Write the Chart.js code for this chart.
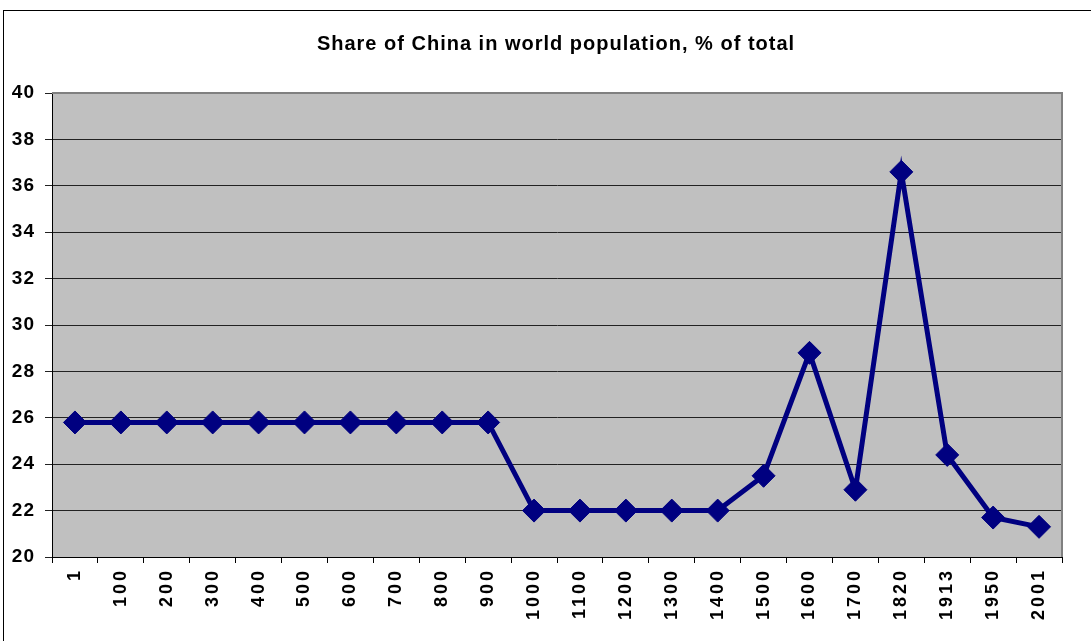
<!DOCTYPE html>
<html lang="en">
<head>
  <meta charset="UTF-8">
  <title>Share of China in world population</title>
  <style>
    html, body { margin: 0; padding: 0; background: #fff; }
    .chartBox { width: 1091px; height: 641px; }
  </style>
</head>
<body>
  <div class="chartBox">
    <canvas id="myChart" width="1091" height="641"></canvas>
  </div>

<script src="https://cdn.jsdelivr.net/npm/chart.js"></script>
<script>
  // data
  const years = ['1', '100', '200', '300', '400', '500', '600', '700', '800', '900',
                 '1000', '1100', '1200', '1300', '1400', '1500', '1600', '1700', '1820', '1913', '1950', '2001'];
  const share = [25.8, 25.8, 25.8, 25.8, 25.8, 25.8, 25.8, 25.8, 25.8, 25.8,
                 22.0, 22.0, 22.0, 22.0, 22.0, 23.5, 28.8, 22.9, 36.6, 24.4, 21.7, 21.3];
  const yMin = 20;
  const yMax = 40;
  const yStep = 2;
  const titleText = 'Share of China in world population, % of total';

  const FONT = 'Arial, "Liberation Sans", sans-serif';

  // grey plot area, outer frame, grey top/right edge, title like excel
  const excelLook = {
    id: 'excelLook',
    beforeDraw(chart) {
      const { ctx, chartArea: a } = chart;
      ctx.save();
      ctx.fillStyle = '#c0c0c0';
      ctx.fillRect(a.left, a.top, a.right - a.left, a.bottom - a.top);
      ctx.strokeStyle = '#000';
      ctx.lineWidth = 1;
      ctx.strokeRect(3.5, 10.5, 2000, 2000);
      ctx.restore();
    },
    beforeDatasetsDraw(chart) {
      const { ctx, chartArea: a } = chart;
      ctx.save();
      ctx.strokeStyle = '#808080';
      ctx.lineWidth = 2;
      ctx.beginPath();
      ctx.moveTo(a.left, a.top);
      ctx.lineTo(a.right, a.top);
      ctx.lineTo(a.right, a.bottom);
      ctx.stroke();
      ctx.restore();
    },
    afterDraw(chart) {
      const ctx = chart.ctx;
      ctx.save();
      ctx.font = 'bold 20px ' + FONT;
      ctx.letterSpacing = '1px';
      ctx.fillStyle = '#000';
      ctx.textAlign = 'center';
      ctx.textBaseline = 'alphabetic';
      ctx.fillText(titleText, 556, 50);
      ctx.restore();
    },
    afterLayout(chart) {
      // wider letter spacing on the tick labels, like the old excel export
      [['x', '3px'], ['y', '1px']].forEach(([id, sp]) => {
        const s = chart.scales[id];
        if (!s || s._spaced) return;
        const orig = s.drawLabels;
        s.drawLabels = function(area) {
          const ctx = this.ctx;
          ctx.save();
          ctx.letterSpacing = sp;
          orig.call(this, area);
          ctx.restore();
        };
        s._spaced = true;
      });
    }
  };

  const ctx = document.getElementById('myChart');

  new Chart(ctx, {
    type: 'line',
    data: {
      labels: years,
      datasets: [{
        label: 'China',
        data: share,
        borderColor: '#000080',
        backgroundColor: '#000080',
        borderWidth: 5,
        pointStyle: 'rectRot',
        pointRadius: 11.5,
        pointBorderWidth: 1,
        pointBackgroundColor: '#000080',
        pointBorderColor: '#000080',
        tension: 0
      }]
    },
    options: {
      responsive: false,
      animation: false,
      layout: { padding: { left: 0, right: 29, top: 93, bottom: 0 } },
      plugins: {
        legend: { display: false },
        tooltip: { enabled: false },
        title: { display: false }
      },
      scales: {
        x: {
          offset: true,
          grid: {
            offset: true,
            drawOnChartArea: false,
            drawTicks: true,
            tickLength: 6,
            color: '#000'
          },
          border: { color: '#000', width: 1 },
          ticks: {
            color: '#000',
            font: { family: FONT, size: 18, weight: 'bold' },
            minRotation: 90,
            maxRotation: 90,
            autoSkip: false,
            padding: 5
          },
          afterFit(scale) { scale.height = 84; }
        },
        y: {
          min: yMin,
          max: yMax,
          grid: {
            color: '#222',
            lineWidth: 1,
            tickLength: 7
          },
          border: { color: '#000', width: 1 },
          ticks: {
            stepSize: yStep,
            color: '#000',
            font: { family: FONT, size: 19, weight: 'bold' },
            padding: 10
          },
          afterFit(scale) { scale.width = 52; }
        }
      }
    },
    plugins: [excelLook]
  });
</script>
</body>
</html>
